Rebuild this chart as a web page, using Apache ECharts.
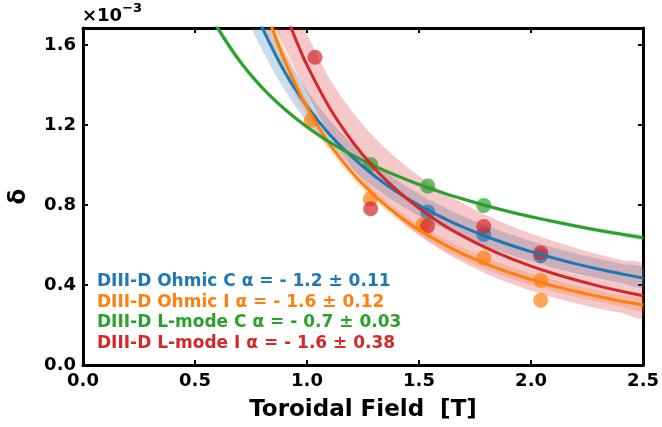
<!DOCTYPE html>
<html>
<head>
<meta charset="utf-8">
<script src="https://cdn.jsdelivr.net/npm/echarts@6/dist/echarts.min.js"></script>
<style>html,body{margin:0;padding:0;background:#fff}#c{width:662px;height:427px}</style>
</head>
<body>
<div id="c"></div>
<script>
// ---- data (δ in units of 1e-3, B in T) ----
const xTicks = [0.0, 0.5, 1.0, 1.5, 2.0, 2.5];
const yTicks = [0.0, 0.4, 0.8, 1.2, 1.6];

// measured points
const blueX = [1.539, 1.789, 2.043];
const blueY = [0.765, 0.653, 0.547];
const orangeX = [1.019, 1.282, 1.518, 1.789, 2.043, 2.043];
const orangeY = [1.225, 0.830, 0.703, 0.535, 0.423, 0.324];
const greenX = [1.284, 1.539, 1.789];
const greenY = [1.003, 0.895, 0.798];
const redX = [1.036, 1.284, 1.538, 1.789, 2.043];
const redY = [1.540, 0.782, 0.696, 0.693, 0.561];

// fitted curves and bands
const blueFitX = [0.7, 0.75, 0.8, 0.9, 1.0, 1.1, 1.2, 1.3, 1.4, 1.5, 1.6, 1.7, 1.8, 1.9, 2.0, 2.1, 2.2, 2.3, 2.4, 2.5];
const blueFit  = [1.978, 1.822, 1.688, 1.467, 1.294, 1.155, 1.042, 0.947, 0.867, 0.799, 0.740, 0.688, 0.643, 0.603, 0.567, 0.535, 0.506, 0.480, 0.457, 0.435];
const blueHi   = [2.138, 1.960, 1.809, 1.564, 1.375, 1.227, 1.108, 1.009, 0.926, 0.856, 0.796, 0.743, 0.697, 0.657, 0.620, 0.587, 0.558, 0.531, 0.507, 0.485];
const blueLo   = [1.830, 1.693, 1.575, 1.376, 1.217, 1.088, 0.980, 0.889, 0.812, 0.746, 0.688, 0.637, 0.593, 0.554, 0.519, 0.487, 0.459, 0.434, 0.412, 0.390];

const orangeFitX = [0.8, 0.85, 0.9, 1.0, 1.1, 1.2, 1.3, 1.4, 1.5, 1.6, 1.7, 1.8, 1.9, 2.0, 2.1, 2.2, 2.3, 2.4, 2.5];
const orangeFit  = [1.837, 1.668, 1.523, 1.288, 1.107, 0.964, 0.849, 0.754, 0.676, 0.610, 0.554, 0.506, 0.464, 0.428, 0.396, 0.368, 0.343, 0.320, 0.300];
const orangeHi   = [1.945, 1.755, 1.595, 1.337, 1.142, 0.993, 0.876, 0.781, 0.704, 0.639, 0.583, 0.536, 0.494, 0.458, 0.426, 0.398, 0.373, 0.349, 0.329];
const orangeLo   = [1.735, 1.586, 1.455, 1.241, 1.073, 0.936, 0.823, 0.728, 0.649, 0.583, 0.526, 0.478, 0.436, 0.400, 0.368, 0.340, 0.316, 0.293, 0.273];

const greenFitX = [0.55, 0.6, 0.7, 0.8, 0.9, 1.0, 1.1, 1.2, 1.3, 1.4, 1.5, 1.6, 1.7, 1.8, 1.9, 2.0, 2.1, 2.2, 2.3, 2.4, 2.5];
const greenFit  = [1.791, 1.688, 1.520, 1.387, 1.280, 1.191, 1.116, 1.052, 0.996, 0.947, 0.903, 0.864, 0.829, 0.797, 0.768, 0.742, 0.718, 0.695, 0.674, 0.655, 0.637];
const greenHi   = [1.815, 1.710, 1.538, 1.402, 1.293, 1.202, 1.126, 1.061, 1.005, 0.956, 0.912, 0.873, 0.838, 0.806, 0.778, 0.752, 0.728, 0.706, 0.685, 0.666, 0.649];
const greenLo   = [1.767, 1.666, 1.502, 1.372, 1.267, 1.180, 1.106, 1.043, 0.987, 0.938, 0.894, 0.855, 0.820, 0.788, 0.758, 0.732, 0.708, 0.684, 0.663, 0.644, 0.625];

const redFitX = [0.85, 0.9, 0.95, 1.0, 1.1, 1.2, 1.3, 1.4, 1.5, 1.6, 1.7, 1.8, 1.9, 2.0, 2.1, 2.2, 2.3, 2.4, 2.5];
const redFit  = [1.945, 1.775, 1.628, 1.500, 1.288, 1.121, 0.986, 0.876, 0.784, 0.707, 0.642, 0.586, 0.537, 0.495, 0.458, 0.425, 0.396, 0.370, 0.346];
const redHi   = [2.183, 1.974, 1.801, 1.658, 1.434, 1.269, 1.139, 1.034, 0.945, 0.870, 0.807, 0.751, 0.701, 0.658, 0.620, 0.585, 0.554, 0.525, 0.499];
const redLo   = [1.733, 1.596, 1.471, 1.357, 1.156, 0.990, 0.854, 0.742, 0.650, 0.574, 0.511, 0.457, 0.411, 0.372, 0.338, 0.309, 0.283, 0.261, 0.240];

const labels = [
  'DIII-D Ohmic C α = - 1.2 ± 0.11',
  'DIII-D Ohmic I α = - 1.6 ± 0.12',
  'DIII-D L-mode C α = - 0.7 ± 0.03',
  'DIII-D L-mode I α = - 1.6 ± 0.38'
];
// ---- end data ----

const C = {blue:'#1f77b4', orange:'#ff7f0e', green:'#2ca02c', red:'#d62728'};
const FONT = '"DejaVu Sans", sans-serif';
const pairs = (xs, ys) => xs.map((x, i) => [x, ys[i]]);

function bandSeries(col, fx, lo, hi, op) {
  return {
    type:'custom', clip:true, silent:true,
    data:[0],
    renderItem:function(params, api) {
      const up = fx.map((x, i) => api.coord([x, hi[i]]));
      const dn = fx.map((x, i) => api.coord([x, lo[i]])).reverse();
      return {type:'polygon', shape:{points:up.concat(dn), smooth:0.35},
              style:{fill:col, opacity:op, stroke:null}};
    }
  };
}

function group(key, fx, fit, lo, hi, px, py, bandOp) {
  const col = C[key];
  return [
    bandSeries(col, fx, lo, hi, bandOp),
    {type:'line', data: pairs(fx, fit), smooth:0.35, symbol:'none', silent:true,
     lineStyle:{color:col, width:3}},
    {type:'scatter', data: pairs(px, py), symbolSize:15, silent:true,
     itemStyle:{color:col, opacity:0.7}}
  ];
}

const series = [].concat(
  group('blue', blueFitX, blueFit, blueLo, blueHi, blueX, blueY, 0.25),
  group('orange', orangeFitX, orangeFit, orangeLo, orangeHi, orangeX, orangeY, 0.22),
  group('green', greenFitX, greenFit, greenLo, greenHi, greenX, greenY, 0.25),
  group('red', redFitX, redFit, redLo, redHi, redX, redY, 0.25)
);

const axisLine = {show:true, onZero:false, lineStyle:{color:'#000', width:3}};
const tick = {show:true, inside:true, length:5, lineStyle:{color:'#000', width:2}};
const lblStyle = {color:'#000', fontFamily:FONT, fontWeight:'bold', fontSize:18};

const legendGraphics = labels.map((t, i) => ({
  type:'text', left:97, top:273 + i*20.7, silent:true,
  style:{text:t, fill:[C.blue, C.orange, C.green, C.red][i], font:'bold 17px ' + FONT}
}));

const chart = echarts.init(document.getElementById('c'), null, {renderer:'canvas'});
chart.setOption({
  animation:false,
  backgroundColor:'#fff',
  grid:{left:81, right:17, top:28, bottom:58, containLabel:false},
  xAxis:[
    {type:'value', min:xTicks[0], max:xTicks[xTicks.length-1], interval:0.5, position:'bottom',
     axisLine, axisTick:tick, splitLine:{show:false},
     axisLabel:Object.assign({margin:7, formatter:v=>v.toFixed(1)}, lblStyle),
     name:'Toroidal Field  [T]', nameLocation:'middle', nameGap:34,
     nameTextStyle:{color:'#000', fontFamily:FONT, fontWeight:'bold', fontSize:23}},
    {type:'value', min:0, max:2.5, interval:0.5, position:'top',
     axisLine, axisTick:tick, axisLabel:{show:false}, splitLine:{show:false}}
  ],
  yAxis:[
    {type:'value', min:yTicks[0], max:1.686, interval:0.4, position:'left',
     axisLine, axisTick:tick, splitLine:{show:false},
     axisLabel:Object.assign({margin:7, showMaxLabel:false, formatter:v=>v.toFixed(1)}, lblStyle),
     name:'δ', nameLocation:'middle', nameGap:52, nameRotate:90,
     nameTextStyle:{color:'#000', fontFamily:FONT, fontWeight:'bold', fontSize:23}},
    {type:'value', min:0, max:1.686, interval:0.4, position:'right',
     axisLine, axisTick:Object.assign({}, tick), axisLabel:{show:false}, splitLine:{show:false}}
  ],
  graphic:[
    {type:'text', left:82, top:2, silent:true,
     style:{text:'{a|×10}{b|−3}', rich:{
       a:{font:'bold 18px ' + FONT, fill:'#000', verticalAlign:'bottom'},
       b:{font:'bold 13px ' + FONT, fill:'#000', verticalAlign:'top', padding:[0,0,10,0]}}}}
  ].concat(legendGraphics),
  series
});
</script>
</body>
</html>
